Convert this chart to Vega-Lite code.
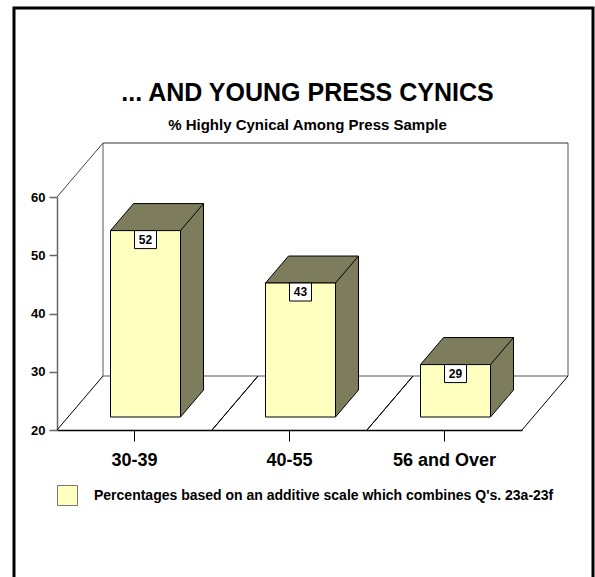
{
  "$schema": "https://vega.github.io/schema/vega-lite/v6.json",
  "width": 579,
  "height": 573,
  "autosize": {"type": "none"},
  "padding": {"left": 14, "top": 8, "right": 2, "bottom": -4},
  "background": "white",
  "config": {
    "view": {"stroke": "black", "strokeWidth": 3},
    "font": "Liberation Sans"
  },
  "title": {
    "text": "... AND YOUNG PRESS CYNICS",
    "subtitle": "% Highly Cynical Among Press Sample",
    "font": "Liberation Sans",
    "fontSize": 25,
    "fontWeight": "bold",
    "color": "black",
    "subtitleFont": "Liberation Sans",
    "subtitleFontSize": 15,
    "subtitleFontWeight": "bold",
    "subtitleColor": "black",
    "subtitlePadding": 12,
    "anchor": "middle",
    "offset": -125,
    "dx": 4
  },
  "data": {
    "values": [
      {"age": "30-39", "pct": 52},
      {"age": "40-55", "pct": 43},
      {"age": "56 and Over", "pct": 29}
    ]
  },
  "layer": [
    {
      "mark": {"type": "rule", "color": "#555555", "strokeWidth": 1, "xOffset": 46, "x2Offset": 46, "yOffset": -54},
      "encoding": {
        "x": {"field": "age", "type": "nominal", "sort": null, "bandPosition": 0,
              "scale": {"range": [43, 508], "paddingInner": 0, "paddingOuter": 0},
              "axis": {"title": null, "orient": "bottom", "offset": -151, "domainColor": "black", "domainWidth": 1.5,
                       "tickColor": "black", "tickSize": 11, "tickWidth": 1, "labelAngle": 0,
                       "labelFont": "Liberation Sans", "labelFontSize": 18, "labelFontWeight": "bold",
                       "labelColor": "black", "labelPadding": 10, "grid": false, "bandPosition": 0.5}},
        "x2": {"field": "age", "bandPosition": 1},
        "y": {"datum": 20, "type": "quantitative",
              "scale": {"domain": [20, 60], "range": [422, 189], "nice": false, "zero": false},
              "axis": {"title": null, "orient": "left", "offset": -43, "values": [20, 30, 40, 50, 60],
                       "domainColor": "#666666", "domainWidth": 1.5, "tickColor": "#666666", "tickSize": 8,
                       "tickWidth": 1.5, "labelFont": "Liberation Sans", "labelFontSize": 13,
                       "labelFontWeight": "bold", "labelColor": "black", "labelPadding": 4, "grid": false}}
      }
    },
    {
      "mark": {"type": "rule", "color": "black", "strokeWidth": 1, "x2Offset": 46, "y2Offset": -54},
      "encoding": {
        "x": {"field": "age", "type": "nominal", "sort": null, "bandPosition": 0},
        "x2": {"field": "age", "bandPosition": 0},
        "y": {"datum": 20, "type": "quantitative"},
        "y2": {"datum": 20}
      }
    },
    {
      "mark": {"type": "rule", "color": "black", "strokeWidth": 1, "x2Offset": 46, "y2Offset": -54},
      "encoding": {
        "x": {"field": "age", "type": "nominal", "sort": null, "bandPosition": 1},
        "x2": {"field": "age", "bandPosition": 1},
        "y": {"datum": 20, "type": "quantitative"},
        "y2": {"datum": 20}
      }
    },
    {
      "transform": [{"filter": "datum.age === '30-39'"}],
      "mark": {"type": "rule", "color": "#444444", "strokeWidth": 1, "x2Offset": 46, "y2Offset": -54},
      "encoding": {
        "x": {"field": "age", "type": "nominal", "sort": null, "bandPosition": 0},
        "x2": {"field": "age", "bandPosition": 0},
        "y": {"datum": 60, "type": "quantitative"},
        "y2": {"datum": 60}
      }
    },
    {
      "transform": [{"filter": "datum.age === '30-39'"}],
      "mark": {"type": "rule", "color": "#555555", "strokeWidth": 1, "xOffset": 46, "yOffset": -54, "y2Offset": -54},
      "encoding": {
        "x": {"field": "age", "type": "nominal", "sort": null, "bandPosition": 0},
        "y": {"datum": 20, "type": "quantitative"},
        "y2": {"datum": 60}
      }
    },
    {
      "transform": [{"filter": "datum.age === '56 and Over'"}],
      "mark": {"type": "rule", "color": "#555555", "strokeWidth": 1, "xOffset": 46, "yOffset": -54, "y2Offset": -54},
      "encoding": {
        "x": {"field": "age", "type": "nominal", "sort": null, "bandPosition": 1},
        "y": {"datum": 20, "type": "quantitative"},
        "y2": {"datum": 60}
      }
    },
    {
      "mark": {"type": "rule", "color": "#333333", "strokeWidth": 1, "xOffset": 46, "x2Offset": 46, "yOffset": -54},
      "encoding": {
        "x": {"field": "age", "type": "nominal", "sort": null, "bandPosition": 0},
        "x2": {"field": "age", "bandPosition": 1},
        "y": {"datum": 60, "type": "quantitative"}
      }
    },
    {
      "mark": {"type": "bar", "width": 70, "xOffset": 34, "yOffset": -40, "y2Offset": -40, "fill": "#7d7d5e", "strokeWidth": 0},
      "encoding": {
        "x": {"field": "age", "type": "nominal", "sort": null},
        "y": {"field": "pct", "type": "quantitative"},
        "y2": {"datum": 20}
      }
    },
    {
      "mark": {"type": "point", "shape": "M69,-40L46,-13L46,-40", "size": 4, "filled": true, "fill": "#7d7d5e", "stroke": "black", "strokeWidth": 1, "opacity": 1, "fillOpacity": 1},
      "encoding": {
        "x": {"field": "age", "type": "nominal", "sort": null},
        "y": {"datum": 20, "type": "quantitative"}
      }
    },
    {
      "mark": {"type": "point", "shape": "M-24,-13L46,-13L69,-40L-1,-40Z", "size": 4, "filled": true, "fill": "#7d7d5e", "stroke": "black", "strokeWidth": 1, "opacity": 1, "fillOpacity": 1},
      "encoding": {
        "x": {"field": "age", "type": "nominal", "sort": null},
        "y": {"field": "pct", "type": "quantitative"}
      }
    },
    {
      "mark": {"type": "rule", "color": "black", "strokeWidth": 1, "xOffset": 69, "yOffset": -40, "y2Offset": -40},
      "encoding": {
        "x": {"field": "age", "type": "nominal", "sort": null},
        "y": {"field": "pct", "type": "quantitative"},
        "y2": {"datum": 20}
      }
    },
    {
      "mark": {"type": "bar", "width": 70, "xOffset": 11, "yOffset": -13, "y2Offset": -13, "stroke": "black", "strokeWidth": 1},
      "encoding": {
        "x": {"field": "age", "type": "nominal", "sort": null},
        "y": {"field": "pct", "type": "quantitative"},
        "y2": {"datum": 20},
        "fill": {"datum": "Percentages based on an additive scale which combines Q's. 23a-23f", "type": "nominal",
                 "scale": {"range": ["#ffffc0"]},
                 "legend": {"orient": "none", "legendX": 43, "legendY": 477, "title": null, "padding": 0,
                            "symbolType": "square", "symbolSize": 400, "symbolStrokeColor": "#777777",
                            "symbolStrokeWidth": 1, "symbolFillColor": "#ffffc0", "labelFont": "Liberation Sans",
                            "labelFontSize": 14, "labelFontWeight": "bold", "labelColor": "black",
                            "labelOffset": 16, "labelLimit": 700}}
      }
    },
    {
      "mark": {"type": "point", "shape": "M0,-13H22V5H0Z", "size": 4, "filled": true, "fill": "white", "stroke": "black", "strokeWidth": 1, "opacity": 1, "fillOpacity": 1},
      "encoding": {
        "x": {"field": "age", "type": "nominal", "sort": null},
        "y": {"field": "pct", "type": "quantitative"}
      }
    },
    {
      "mark": {"type": "text", "dx": 11, "dy": -4, "font": "Liberation Sans", "fontSize": 12, "fontWeight": "bold", "color": "black", "align": "center", "baseline": "middle"},
      "encoding": {
        "x": {"field": "age", "type": "nominal", "sort": null},
        "y": {"field": "pct", "type": "quantitative"},
        "text": {"field": "pct", "type": "quantitative"}
      }
    }
  ]
}
